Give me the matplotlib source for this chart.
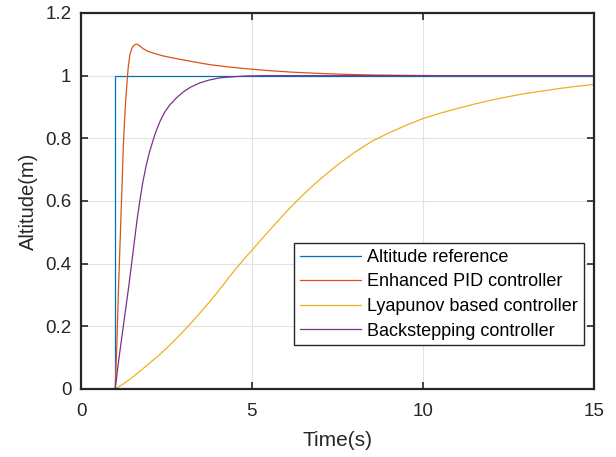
import matplotlib
matplotlib.use("Agg")
import matplotlib.pyplot as plt

# altitude reference (step at t = 1 s)
t_ref = [0, 1, 1, 15]
z_ref = [0, 0, 1, 1]

# enhanced PID controller
t_pid = [0, 1.0, 1.05, 1.1, 1.15, 1.2, 1.24, 1.29, 1.34, 1.38, 1.43, 1.49, 1.55,
         1.6, 1.65, 1.72, 1.82, 1.95, 2.11, 2.4, 2.8, 3.3, 3.77, 4.3, 4.84, 5.5,
         6.2, 7.0, 7.8, 8.6, 9.5, 10.5, 15.0]
z_pid = [0, 0, 0.15, 0.33, 0.49, 0.65, 0.78, 0.89, 0.971, 1.025, 1.067, 1.088, 1.097,
         1.100, 1.100, 1.095, 1.086, 1.078, 1.072, 1.063, 1.054, 1.044, 1.035, 1.028,
         1.022, 1.016, 1.011, 1.007, 1.004, 1.002, 1.001, 1.0, 1.0]

# Lyapunov based controller
t_lya = [0, 1.0, 1.25, 1.5, 1.75, 2.0, 2.25, 2.5, 2.75, 3.0, 3.25, 3.5, 3.75, 4.0,
         4.25, 4.5, 4.75, 5.0, 5.25, 5.5, 5.75, 6.0, 6.25, 6.5, 6.75, 7.0, 7.5,
         8.0, 8.5, 9.0, 9.5, 10.0, 10.5, 11.0, 11.5, 12.0, 12.5, 13.0, 13.5,
         14.0, 14.5, 15.0]
z_lya = [0, 0, 0.017, 0.037, 0.059, 0.082, 0.105, 0.13, 0.157, 0.185, 0.214, 0.245,
         0.277, 0.31, 0.345, 0.38, 0.412, 0.443, 0.474, 0.505, 0.535, 0.565, 0.593,
         0.62, 0.646, 0.67, 0.715, 0.755, 0.79, 0.817, 0.841, 0.863, 0.880, 0.895,
         0.909, 0.922, 0.933, 0.943, 0.951, 0.959, 0.966, 0.972]

# backstepping controller
t_bs = [0, 1.0, 1.1, 1.2, 1.3, 1.4, 1.48, 1.56, 1.64, 1.72, 1.8, 1.9, 2.0, 2.07,
        2.17, 2.31, 2.45, 2.6, 2.8, 2.99, 3.2, 3.48, 3.75, 4.06, 4.4, 4.84, 5.4,
        6.0, 15.0]
z_bs = [0, 0, 0.09, 0.17, 0.25, 0.33, 0.40, 0.47, 0.54, 0.60, 0.655, 0.71, 0.755, 0.78,
        0.815, 0.854, 0.884, 0.907, 0.930, 0.948, 0.963, 0.977, 0.986, 0.993, 0.996,
        0.999, 1.0, 1.0, 1.0]

labels = ["Altitude reference", "Enhanced PID controller",
          "Lyapunov based controller", "Backstepping controller"]
colors = ["#0072BD", "#D95319", "#EDB120", "#7E2F8E"]


def main():
    plt.rcParams["font.family"] = ["Liberation Sans", "DejaVu Sans"]
    fig = plt.figure(figsize=(6.16, 4.57), dpi=100)
    ax = fig.add_axes([0.1315, 0.1488, 0.8325, 0.8228])

    series = [(t_ref, z_ref), (t_pid, z_pid), (t_lya, z_lya), (t_bs, z_bs)]
    for (t, z), lab, c in zip(series, labels, colors):
        ax.plot(t, z, color=c, linewidth=0.9, label=lab)

    ax.set_xlim(0, 15)
    ax.set_ylim(0, 1.2)
    ax.set_xticks([0, 5, 10, 15])
    ax.set_yticks([0, 0.2, 0.4, 0.6, 0.8, 1.0, 1.2])
    ax.set_yticklabels(["0", "0.2", "0.4", "0.6", "0.8", "1", "1.2"])
    ax.grid(True, color="#e3e3e3", linewidth=0.8)
    ax.set_axisbelow(True)
    ax.tick_params(direction="in", top=True, right=True, length=5, width=1.2,
                   colors="#262626", labelsize=13.5)
    ax.tick_params(axis="x", pad=10)
    ax.tick_params(axis="y", pad=7)
    for s in ax.spines.values():
        s.set_linewidth(1.6)
        s.set_color("#262626")

    ax.set_xlabel("Time(s)", fontsize=15, color="#262626", labelpad=8)
    ax.set_ylabel("Altitude(m)", fontsize=14.5, color="#262626", labelpad=5)

    leg = ax.legend(loc="lower right", bbox_to_anchor=(0.980, 0.117),
                    fontsize=13, fancybox=False, framealpha=1,
                    edgecolor="#262626", handlelength=3.4, handletextpad=0.35,
                    borderpad=0.3, labelspacing=0.42, borderaxespad=0)
    leg.get_frame().set_linewidth(1.0)

    fig.savefig("out.png", dpi=100)


if __name__ == "__main__":
    main()
